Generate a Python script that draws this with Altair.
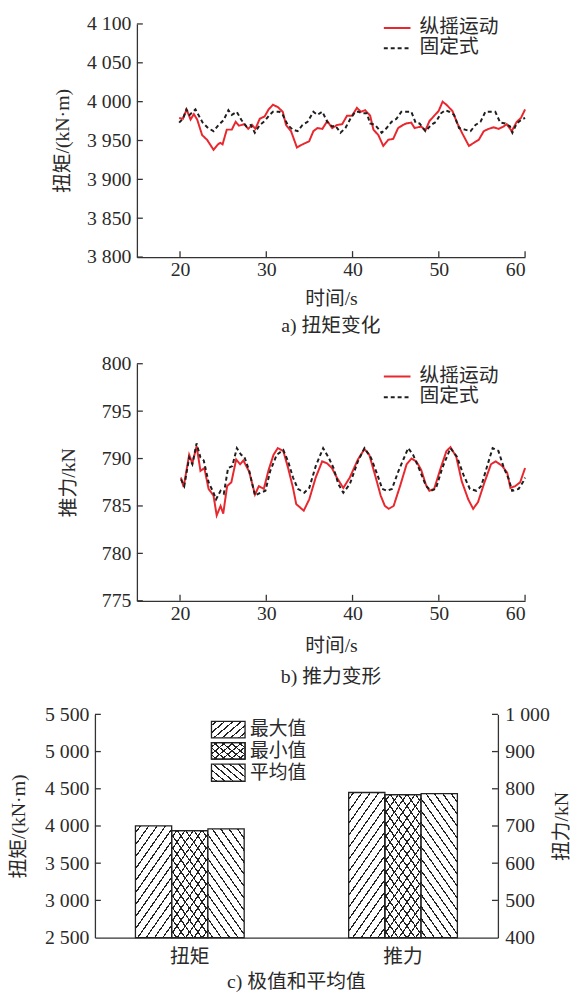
import math
import altair as alt
import pandas as pd

# ---------------- data ----------------
series_names = ["纵摇运动", "固定式"]
x_ticks = [20, 30, 40, 50, 60]

# panel a: torque (kN·m)
ta_pitch_t = [19.9, 20.34, 20.76, 21.22, 21.6, 21.99, 22.56, 23.13, 23.89, 24.39, 24.66, 24.93, 25.42, 26.0,
              26.45, 26.83, 27.45, 27.9, 28.36, 28.74, 29.24, 29.81, 30.27, 30.77, 31.34, 31.91, 32.29, 32.87,
              33.55, 34.2, 34.97, 35.46, 35.92, 36.5, 37.07, 37.64, 38.21, 38.8, 39.36, 39.94, 40.51, 40.97,
              41.46, 42.04, 42.42, 42.99, 43.56, 44.14, 44.71, 45.28, 45.85, 46.24, 46.81, 47.19, 47.95, 48.45,
              48.91, 49.48, 49.98, 50.44, 50.89, 51.58, 52.15, 52.73, 53.49, 54.06, 54.64, 55.21, 55.78, 56.35,
              56.93, 57.5, 57.88, 58.45, 59.03, 59.52, 60.0]
ta_pitch_v = [3979, 3978, 3990, 3977, 3984, 3977, 3957, 3951, 3938, 3945, 3947, 3945, 3964, 3964,
              3974, 3969, 3971, 3965, 3970, 3965, 3978, 3981, 3990, 3996, 3993, 3987, 3970, 3962,
              3941, 3945, 3949, 3962, 3966, 3965, 3975, 3966, 3970, 3971, 3982, 3982, 3992, 3987,
              3989, 3982, 3964, 3957, 3943, 3951, 3952, 3966, 3970, 3972, 3973, 3966, 3968, 3963,
              3975, 3982, 3988, 4000, 3996, 3988, 3972, 3959, 3943, 3947, 3951, 3962, 3965, 3967,
              3965, 3968, 3971, 3962, 3974, 3979, 3990]
ta_fixed_t = [19.9, 20.34, 20.73, 21.11, 21.79, 22.18, 22.63, 23.25, 23.89, 24.47, 25.04, 25.61, 26.0, 26.57,
              27.14, 27.71, 28.21, 28.67, 29.24, 29.81, 30.39, 30.77, 31.53, 31.91, 32.49, 33.06, 33.63, 34.2,
              34.78, 35.46, 35.92, 36.5, 37.07, 37.64, 38.02, 38.6, 39.17, 39.75, 40.32, 40.7, 41.08, 41.65,
              42.04, 42.61, 43.37, 43.95, 44.52, 45.09, 45.66, 46.24, 46.81, 47.31, 47.76, 48.45, 49.1, 49.67,
              50.25, 50.74, 51.2, 51.77, 52.35, 53.03, 53.68, 54.25, 54.83, 55.4, 55.97, 56.55, 57.12, 57.69,
              58.26, 58.53, 59.03, 59.6, 60.0]
ta_fixed_v = [3973, 3978, 3990, 3983, 3990, 3982, 3973, 3966, 3962, 3970, 3976, 3989, 3983, 3987,
              3976, 3968, 3970, 3960, 3970, 3975, 3983, 3987, 3987, 3983, 3970, 3964, 3962, 3970,
              3974, 3987, 3983, 3987, 3974, 3968, 3969, 3960, 3966, 3978, 3987, 3987, 3985, 3985,
              3972, 3970, 3960, 3966, 3974, 3978, 3987, 3987, 3987, 3973, 3972, 3962, 3970, 3974,
              3985, 3989, 3987, 3983, 3966, 3964, 3962, 3970, 3974, 3987, 3987, 3987, 3973, 3972,
              3968, 3960, 3972, 3977, 3979]

# panel b: thrust (kN)
tb_pitch_t = [20.11, 20.42, 21.06, 21.43, 21.92, 22.37, 22.82, 23.31, 23.88, 24.25, 24.7, 25.01, 25.46, 25.95,
              26.51, 26.96, 27.34, 28.02, 28.69, 29.14, 29.71, 30.27, 30.84, 31.33, 31.97, 32.53, 33.1, 33.47,
              34.34, 34.98, 35.73, 36.48, 37.04, 37.61, 38.17, 38.93, 39.68, 40.62, 41.38, 41.94, 42.69, 43.26,
              43.75, 44.2, 44.76, 45.51, 46.27, 46.83, 47.4, 47.96, 48.52, 48.9, 49.46, 50.22, 50.89, 51.35,
              52.02, 52.66, 53.41, 53.98, 54.54, 55.3, 56.05, 56.61, 57.37, 57.93, 58.3, 58.87, 59.43, 60.0]
tb_pitch_v = [788.0, 787.0, 790.4, 789.5, 791.3, 788.7, 789.0, 786.8, 786.1, 784.0, 785.0, 784.2, 787.1, 787.5,
              789.9, 789.4, 789.8, 788.6, 786.2, 787.1, 786.8, 788.8, 790.4, 791.1, 790.8, 789.0, 786.9, 785.2,
              784.5, 785.7, 788.0, 789.7, 789.5, 789.0, 788.0, 786.9, 788.0, 789.9, 791.0, 790.4, 788.0, 786.1,
              785.0, 784.7, 785.0, 787.1, 789.4, 790.0, 789.7, 788.8, 787.2, 786.6, 786.8, 789.0, 790.8, 791.2,
              790.2, 787.6, 785.7, 784.7, 785.4, 787.5, 789.4, 789.7, 789.2, 788.5, 786.9, 787.1, 787.5, 789.0]
tb_fixed_t = [20.11, 20.49, 21.06, 21.43, 21.92, 22.37, 22.75, 23.31, 23.88, 24.18, 24.7, 25.08, 25.57, 26.06,
              26.59, 27.08, 27.45, 28.02, 28.69, 29.33, 29.9, 30.46, 31.21, 31.97, 32.53, 33.1, 33.66, 34.41,
              34.98, 35.73, 36.59, 37.23, 37.8, 38.36, 38.93, 39.68, 40.62, 41.38, 42.13, 42.88, 43.44, 44.0,
              44.57, 45.33, 45.89, 46.45, 47.02, 47.77, 48.52, 49.09, 49.65, 50.4, 51.35, 52.1, 52.85, 53.6,
              54.35, 54.92, 55.67, 56.24, 56.91, 57.55, 58.12, 58.5, 59.25, 59.81, 60.0]
tb_fixed_v = [787.8, 787.1, 790.1, 789.4, 791.6, 790.1, 789.8, 787.5, 786.4, 785.7, 786.6, 786.3, 789.0, 789.2,
              791.1, 790.4, 790.2, 788.7, 786.1, 786.4, 786.6, 788.7, 790.4, 790.9, 789.7, 788.0, 786.8, 786.4,
              786.9, 789.2, 791.1, 790.1, 789.0, 787.3, 786.4, 787.3, 789.7, 791.1, 790.1, 788.3, 786.8, 786.6,
              786.8, 788.7, 789.9, 791.1, 790.4, 788.8, 787.1, 786.6, 786.8, 789.0, 791.1, 790.2, 788.3, 786.8,
              786.6, 787.1, 789.4, 791.1, 790.8, 789.0, 787.8, 786.6, 786.8, 787.6, 788.0]

torque_ticks = [3800, 3850, 3900, 3950, 4000, 4050, 4100]
thrust_ticks = [775, 780, 785, 790, 795, 800]

# panel c: extreme & mean values
bar_cats = ["扭矩", "推力"]
bar_stats = ["最大值", "最小值", "平均值"]
torque_bar = [4001, 3938, 3960]
thrust_bar = [790, 784, 787]
c_left_ticks = [2500, 3000, 3500, 4000, 4500, 5000, 5500]
c_right_ticks = [400, 500, 600, 700, 800, 900, 1000]

# ---------------- style ----------------
RED = "#e8282e"
INK = "#1e1e1e"
TXT = "#2a2a2a"
FONT = "'Liberation Serif', 'Noto Sans CJK SC', serif"
CJK = "'Noto Sans CJK SC', sans-serif"
FS = 20
LBL = "replace(format(datum.value, ','), ',', ' ')"


def caption(text, off):
    return alt.TitleParams(text=text, orient="bottom", anchor="middle", frame="group", offset=off,
                           font=FONT, fontSize=FS, fontWeight="normal", color=TXT)


def line_panel(pt, pv, ft, fv, ydom, yticks, ytitle, cap, W, H, ytp, xlp, xtp, capoff, rows):
    dp = pd.DataFrame({"t": pt, "v": pv, "series": series_names[0]})
    dfx = pd.DataFrame({"t": ft, "v": fv, "series": series_names[1]})
    xsc = alt.Scale(domain=[15, 60], nice=False, zero=False)
    ysc = alt.Scale(domain=ydom, nice=False, zero=False)
    xax = alt.Axis(values=x_ticks, title="时间/s", ticks=False, grid=False, labelPadding=xlp, titlePadding=xtp,
                   labelFont=FONT, labelFontSize=FS, labelColor=TXT, titleFont=FONT, titleFontSize=FS,
                   titleFontWeight="normal", titleColor=TXT, domainColor="#333", domainWidth=1.3)
    yax = alt.Axis(values=yticks, title=ytitle, ticks=False, grid=False, labelPadding=6, titlePadding=ytp,
                   labelExpr=LBL, labelFont=FONT, labelFontSize=FS, labelColor=TXT, titleFont=FONT,
                   titleFontSize=FS, titleFontWeight="normal", titleColor=TXT, domainColor="#333",
                   domainWidth=1.3)
    color = alt.Color("series:N", scale=alt.Scale(domain=series_names, range=[RED, INK]), legend=None)
    dash = alt.StrokeDash("series:N", scale=alt.Scale(domain=series_names, range=[[1, 0], [4, 3]]),
                          legend=None)
    X = alt.X("t:Q", scale=xsc, axis=xax)
    Y = alt.Y("v:Q", scale=ysc, axis=yax)
    red = alt.Chart(dp).mark_line(strokeWidth=2).encode(x=X, y=Y, color=color, strokeDash=dash)
    blk = alt.Chart(dfx).mark_line(strokeWidth=2).encode(x=X, y=Y, color=color, strokeDash=dash)
    yt = alt.Chart(pd.DataFrame({"v": yticks})).mark_rule(color="#333", strokeWidth=1.3).encode(
        y=Y, x=alt.value(0), x2=alt.value(6))
    xt = alt.Chart(pd.DataFrame({"t": x_ticks})).mark_rule(color="#333", strokeWidth=1.3).encode(
        x=X, y=alt.value(H - 6), y2=alt.value(H))
    # legend (drawn by hand, top-right inside the plot)
    ldf = pd.DataFrame({"series": series_names})
    lx0, lx1, ltx = 250, 277, 286
    leg = []
    for name, yy, col, dsh in zip(series_names, rows, [RED, INK], [[1, 0], [4, 3]]):
        base = alt.Chart(ldf).transform_filter(alt.datum.series == name)
        leg.append(base.mark_rule(color=col, strokeWidth=2, strokeDash=dsh).encode(
            x=alt.value(lx0), x2=alt.value(lx1), y=alt.value(yy)))
        leg.append(base.mark_text(align="left", baseline="middle", font=CJK, fontSize=FS, color=TXT).encode(
            x=alt.value(ltx), y=alt.value(yy - 1), text="series:N"))
    return alt.layer(red, blk, yt, xt, *leg).properties(width=W, height=H, title=caption(cap, capoff))


def hatch(w, h, kind, bg, fg="#222", theta=55, sx=8.5, lw=1.2):
    th = math.radians(theta)
    s, c = math.sin(th), math.cos(th)
    L = w * s + h * c
    k = L / (w * w * s * s + h * h * c * c)
    gx, gy = k * w * s, k * h * c
    if kind == "/":
        x1, y1, x2, y2 = 0, 0, gx, gy
    else:
        x1, y1, x2, y2 = 0, 1, gx, 1 - gy
    N = L / (sx * s)
    f = lw / L
    stops = [{"offset": 0, "color": bg}]
    n = 0
    while True:
        a = (n + 0.5) / N
        b = a + f
        if b >= 1:
            break
        stops += [{"offset": a, "color": bg}, {"offset": a, "color": fg},
                  {"offset": b, "color": fg}, {"offset": b, "color": bg}]
        n += 1
    stops.append({"offset": 1, "color": bg})
    return {"gradient": "linear", "x1": x1, "y1": y1, "x2": x2, "y2": y2, "stops": stops}


WA, HA = 393, 236
WB, HB = 393, 240
WC, HC = 408, 226

panel_a = line_panel(ta_pitch_t, ta_pitch_v, ta_fixed_t, ta_fixed_v, [3800, 4100], torque_ticks,
                     "扭矩/(kN·m)", "a) 扭矩变化", WA, HA, 14, 3, 9, 8, [4, 24.5])
panel_b = line_panel(tb_pitch_t, tb_pitch_v, tb_fixed_t, tb_fixed_v, [775, 800], thrust_ticks,
                     "推力/kN", "b) 推力变形", WB, HB, 23, 3, 12, 12, [13, 34])

# ---------------- panel c ----------------
PI, PO = 0.49, 0.19
step = WC / (2 - PI + 2 * PO)
bar_w = step * (1 - PI) / 3

xs_c = alt.Scale(domain=bar_cats, paddingInner=PI, paddingOuter=PO)
xo_c = alt.Scale(domain=bar_stats, paddingInner=0, paddingOuter=0)
xax_c = alt.Axis(title=None, ticks=False, grid=False, labelPadding=9, labelAngle=0, labelFont=FONT,
                 labelFontSize=FS, labelColor=TXT, domainColor="#333", domainWidth=1.3)


def yaxis_c(vals, title, orient, tp, lp, tb):
    return alt.Axis(values=vals, title=title, orient=orient, ticks=False, grid=False, labelPadding=lp,
                    titlePadding=tp, titleAngle=270, titleBaseline=tb, labelExpr=LBL, labelFont=FONT,
                    labelFontSize=FS, labelColor=TXT, titleFont=FONT, titleFontSize=FS,
                    titleFontWeight="normal", titleColor=TXT, domainColor="#333", domainWidth=1.3)


def group_layers(cat, vals, dom, ticks, title, orient, tp, lp, tb, with_legend):
    df = pd.DataFrame({"cat": cat, "stat": bar_stats, "value": vals})
    ysc = alt.Scale(domain=dom, nice=False, zero=False)
    Y = alt.Y("value:Q", scale=ysc, axis=yaxis_c(ticks, title, orient, tp, lp, tb))
    X = alt.X("cat:N", scale=xs_c, axis=xax_c)
    XO = alt.XOffset("stat:N", scale=xo_c)
    layers = []
    for stat, v in zip(bar_stats, vals):
        hp = (v - dom[0]) / (dom[1] - dom[0]) * HC
        base = alt.Chart(df).transform_filter(alt.datum.stat == stat)
        enc = dict(x=X, xOffset=XO, y=Y, y2=alt.datum(dom[0]))
        if stat == bar_stats[0]:
            fills = [hatch(bar_w, hp, "/", "white")]
        elif stat == bar_stats[1]:
            fills = [hatch(bar_w, hp, "/", "white"), hatch(bar_w, hp, "\\", "rgba(255,255,255,0)")]
        else:
            fills = [hatch(bar_w, hp, "\\", "white")]
        for fl in fills:
            layers.append(base.mark_bar(fill=fl, stroke="#222", strokeWidth=1.3).encode(**enc))
    tdf = pd.DataFrame({"value": ticks[1:]})
    if orient == "left":
        layers.append(alt.Chart(tdf).mark_rule(color="#333", strokeWidth=1.3).encode(
            y=Y, x=alt.value(0), x2=alt.value(6)))
    else:
        layers.append(alt.Chart(tdf).mark_rule(color="#333", strokeWidth=1.3).encode(
            y=Y, x=alt.value(WC - 6), x2=alt.value(WC)))
    if with_legend:
        ldf = pd.DataFrame({"stat": bar_stats})
        sw_x0, sw_x1 = 118, 152
        sw_rows = [(7, 23.7), (28.7, 45.3), (50.3, 67.7)]
        sw_w = sw_x1 - sw_x0
        for stat, (ya, yb) in zip(bar_stats, sw_rows):
            hh = yb - ya
            if stat == bar_stats[0]:
                fills = [hatch(sw_w, hh, "/", "white", theta=40, sx=8.5)]
            elif stat == bar_stats[1]:
                fills = [hatch(sw_w, hh, "/", "white", theta=40, sx=8.5),
                         hatch(sw_w, hh, "\\", "rgba(255,255,255,0)", theta=40, sx=8.5)]
            else:
                fills = [hatch(sw_w, hh, "\\", "white", theta=40, sx=8.5)]
            for fl in fills:
                layers.append(alt.Chart(ldf).transform_filter(alt.datum.stat == stat).mark_rect(
                    fill=fl, stroke="#222", strokeWidth=1.3).encode(
                    x=alt.value(sw_x0), x2=alt.value(sw_x1), y=alt.value(ya), y2=alt.value(yb)))
            layers.append(alt.Chart(ldf).transform_filter(alt.datum.stat == stat).mark_text(
                align="left", baseline="middle", font=CJK, fontSize=19, color=TXT).encode(
                x=alt.value(sw_x1 + 5), y=alt.value((ya + yb) / 2), text="stat:N"))
    return alt.layer(*layers)


torque_layer = group_layers(bar_cats[0], torque_bar, [2500, 5500], c_left_ticks, "扭矩/(kN·m)",
                            "left", 16, 6, "bottom", True)
thrust_layer = group_layers(bar_cats[1], thrust_bar, [400, 1000], c_right_ticks, "扭力/kN",
                            "right", 2, 7, "top", False)
panel_c = alt.layer(torque_layer, thrust_layer).resolve_scale(y="independent").properties(
    width=WC, height=HC, title=caption("c) 极值和平均值", 6))

chart = alt.vconcat(panel_a, panel_b, panel_c, spacing=18, center=True).properties(
    padding=0, background="white"
).configure_view(stroke=None)

chart.save("out.html", embed_options={"renderer": "svg", "actions": False})
